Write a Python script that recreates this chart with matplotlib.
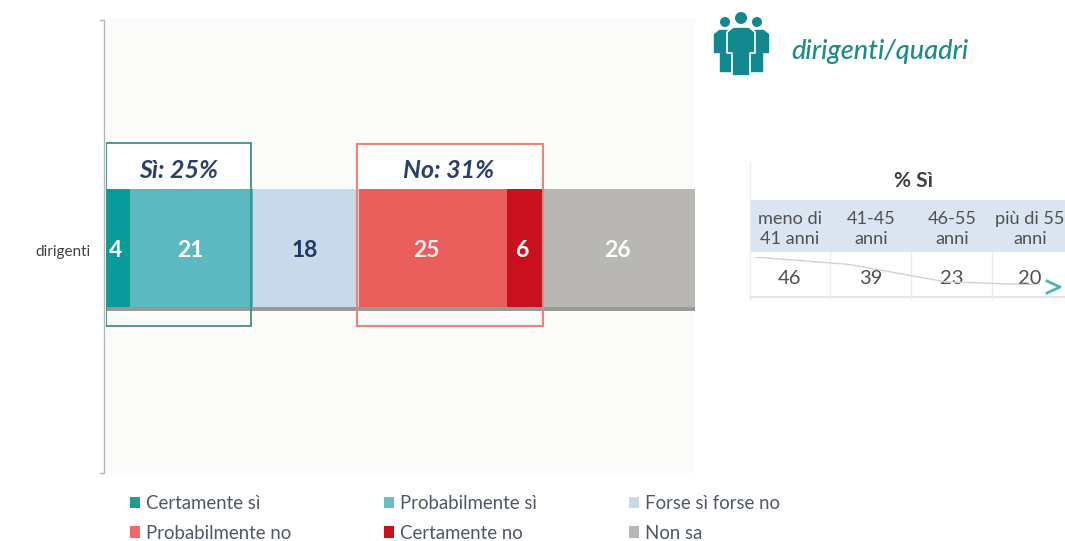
import matplotlib
import matplotlib.pyplot as plt
import matplotlib.patheffects as pe
from matplotlib.patches import Rectangle, Circle, Polygon, Patch

matplotlib.use('Agg')
plt.rcParams['font.family'] = ['Lato', 'DejaVu Sans']

W, H = 1065, 541

category = 'dirigenti'
labels = ['Certamente sì', 'Probabilmente sì', 'Forse sì forse no',
          'Probabilmente no', 'Certamente no', 'Non sa']
values = [4, 21, 18, 25, 6, 26]
colors = ['#0a9c9c', '#5cb9c2', '#c8d9ec', '#ea5f5b', '#c8101e', '#b9b7b4']
legend_colors = ['#1f9d8f', '#6cbcc0', '#c8d9ec', '#f0686a', '#c8101e', '#b9b7b4']
text_colors = ['white', 'white', '#1f3864', '#fdeeee', 'white', 'white']
label_shift = [-0.3, -0.2, -0.2, -1.1, -0.2, -0.2]

age_groups = ['meno di\n41 anni', '41-45\nanni', '46-55\nanni', 'più di 55\nanni']
pct_si = [46, 39, 23, 20]

fig = plt.figure(figsize=(W / 100, H / 100), dpi=100, facecolor='white')

# main chart, x 106-695 px, y 18-473 px
ax = fig.add_axes([106 / W, 1 - 473 / H, 589 / W, 455 / H])
ax.set_facecolor('#fbfbfa')
ax.set_xlim(0, 100)
ax.set_ylim(-0.5, 0.5)
ax.set_xticks([])
ax.set_yticks([-0.01])
ax.set_yticklabels([category], fontsize=11, color='#404040')
ax.tick_params(axis='y', length=0, pad=11)
for s in ax.spines.values():
    s.set_visible(False)

left = 0
for v, c, tc, sh in zip(values, colors, text_colors, label_shift):
    b = ax.barh(-0.0055, v, left=left, height=0.259, color=c, zorder=2)
    b[0].set_path_effects([pe.SimplePatchShadow(offset=(0, -3), shadow_rgbFace='#7f7f7f', alpha=0.8),
                           pe.Normal()])
    ax.text(left + v / 2 + sh, -0.012, str(v), ha='center', va='center', color=tc,
            fontsize=16.5, fontweight='bold', zorder=4)
    left += v

# Sì / No boxes
si_total = values[0] + values[1]
no_start = values[0] + values[1] + values[2]
no_total = values[3] + values[4]
ax.add_patch(Rectangle((0, -0.176), si_total - 0.4, 0.402, fill=False, ec='#3f8f86', lw=1.3, zorder=5))
ax.add_patch(Rectangle((no_start - 0.4, -0.178), no_total + 0.6, 0.402, fill=False, ec='#ee8478', lw=1.5, zorder=5))
ax.add_patch(Rectangle((0, 0.122), si_total - 0.4, 0.102, fc='white', ec='none', zorder=1))
ax.add_patch(Rectangle((no_start - 0.4, 0.122), no_total + 0.6, 0.102, fc='white', ec='none', zorder=1))
ax.text(12.3, 0.164, f'Sì: {si_total}%', ha='center', va='center', style='italic',
        fontweight='bold', fontsize=18, color='#2b3f6b', zorder=5)
ax.text(58.2, 0.164, f'No: {no_total}%', ha='center', va='center', style='italic',
        fontweight='bold', fontsize=18, color='#2b3f6b', zorder=5)

handles = [Patch(fc=c, ec='none') for c in legend_colors]
order = [0, 3, 1, 4, 2, 5]
fig.legend([handles[i] for i in order], [labels[i] for i in order], ncol=3,
           loc='upper left', bbox_to_anchor=(130 / W, 1 - 495 / H), frameon=False,
           fontsize=13.4, handlelength=0.55, handleheight=0.55, handletextpad=0.32,
           columnspacing=4.95, labelspacing=0.68, labelcolor='#4f5866',
           borderpad=0, borderaxespad=0)

# pixel overlay for axis line, icon and table
ov = fig.add_axes([0, 0, 1, 1])
ov.set_xlim(0, W)
ov.set_ylim(H, 0)
ov.axis('off')
ov.patch.set_alpha(0)

ov.plot([100, 104, 104, 100], [20, 20, 473, 473], color='#b5b5b5', lw=1)

# people icon
teal = '#13898f'
for x, y, r in [(725, 22, 5), (757, 22, 5), (741, 18, 6)]:
    ov.add_patch(Circle((x, y), r, fc=teal, ec='none'))
ov.add_patch(Polygon([(719, 30), (732, 30), (732, 71), (720, 71), (720, 52), (714, 52), (714, 34)],
                     fc=teal, ec=teal, lw=1, joinstyle='round'))
ov.add_patch(Polygon([(763, 30), (750, 30), (750, 71), (762, 71), (762, 52), (768, 52), (768, 34)],
                     fc=teal, ec=teal, lw=1, joinstyle='round'))
ov.add_patch(Polygon([(733, 27), (749, 27), (755, 32), (755, 53), (750, 53), (750, 76),
                      (732, 76), (732, 53), (727, 53), (727, 32)],
                     fc=teal, ec='white', lw=1.2, joinstyle='round'))
ov.text(791, 52, 'dirigenti/quadri', style='italic', fontsize=19.5, color='#1d8a8c',
        ha='left', va='center', fontweight='medium')

# side table
col_x = [790, 871, 952, 1030]
col_edges = [830, 911, 992]
ov.add_patch(Rectangle((750, 200), 315, 52, fc='#dbe5f1', ec='none'))
ov.plot([750, 750], [162, 300], color='#ececec', lw=1)
ov.plot([750, 1065], [297, 297], color='#e2e2e2', lw=1.2)
for x in col_edges:
    ov.plot([x, x], [252, 300], color='#ececec', lw=1)
ov.text(913, 181, '% Sì', ha='center', va='center', fontsize=15, fontweight='bold', color='#404040')
for x, g, p in zip(col_x, age_groups, pct_si):
    ov.text(x, 229, g, ha='center', va='center', fontsize=13.1, color='#505050', linespacing=1.25)
    ov.text(x, 278, str(p), ha='center', va='center', fontsize=14.5, color='#505050')

# sparkline through the table row
sp = fig.add_axes([755 / W, 1 - 285 / H, 285 / W, 28 / H])
sp.patch.set_alpha(0)
sp.axis('off')
sp.plot(range(len(pct_si)), pct_si, color='#d2d2d2', lw=1)
sp.set_xlim(0, len(pct_si) - 1)
sp.set_ylim(min(pct_si), max(pct_si))
ov.plot([1047, 1060, 1047], [281, 287, 293], color='#45b8b8', lw=2)

fig.savefig('out.png', dpi=100)
plt.close()
